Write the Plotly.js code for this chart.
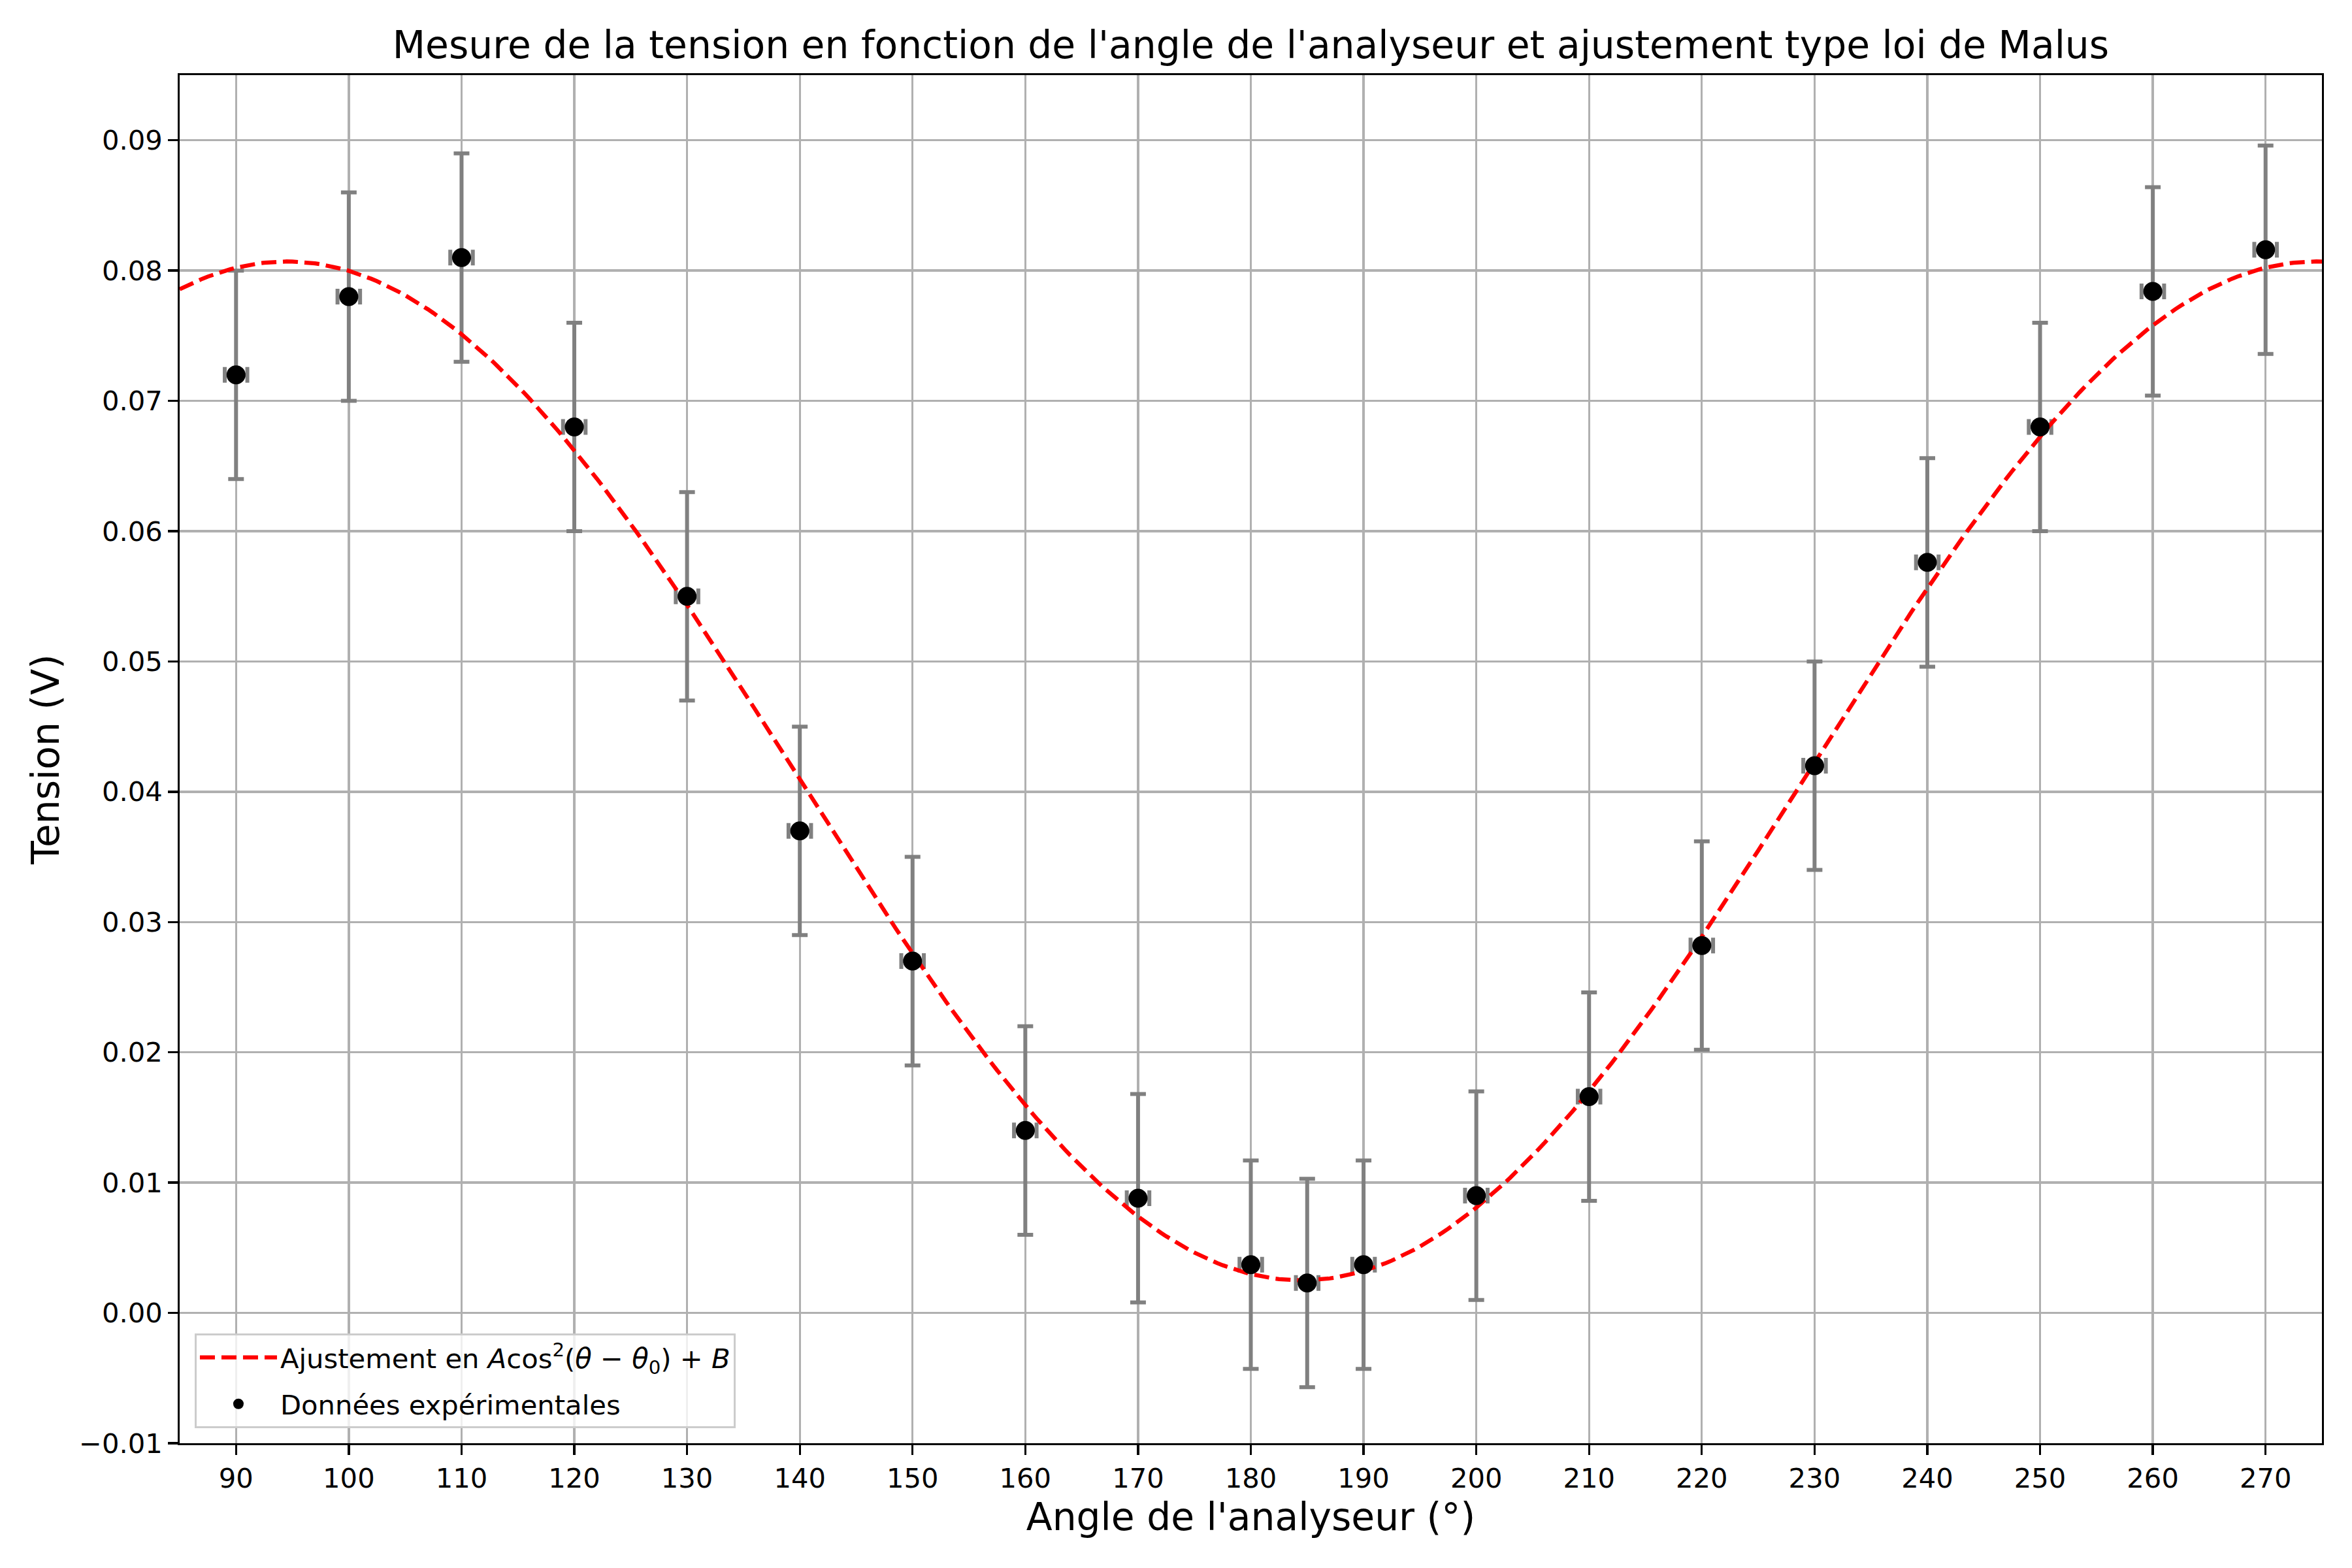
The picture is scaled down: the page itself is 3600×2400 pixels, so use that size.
<!DOCTYPE html>
<html>
<head>
<meta charset="utf-8">
<script src="https://cdn.plot.ly/plotly-3.0.1.min.js"></script>
<style>
  html, body { margin: 0; padding: 0; background: #ffffff; }
  #chart { width: 3600px; height: 2400px; }
</style>
</head>
<body>
<div id="chart"></div>
<script>
const angles = [90, 100, 110, 120, 130, 140, 150, 160, 170, 180, 185, 190, 200, 210, 220, 230, 240, 250, 260, 270];
const tension = [0.072, 0.078, 0.081, 0.068, 0.055, 0.037, 0.027, 0.014, 0.0088, 0.0037, 0.0023, 0.0037, 0.009, 0.0166, 0.0282, 0.042, 0.0576, 0.068, 0.0784, 0.0816];
const tensionErr = [0.008, 0.008, 0.008, 0.008, 0.008, 0.008, 0.008, 0.008, 0.008, 0.008, 0.008, 0.008, 0.008, 0.008, 0.008, 0.008, 0.008, 0.008, 0.008, 0.008];
const angleErr = [1, 1, 1, 1, 1, 1, 1, 1, 1, 1, 1, 1, 1, 1, 1, 1, 1, 1, 1, 1];

// Fit parameters of the drawn Malus-law curve
const fitA = 0.0782;
const fitB = 0.0025;
const fitTheta0 = 94.5;
const fitStart = 85;
const fitEnd = 275;
const fitStep = 0.5;

const xTickVals = [90, 100, 110, 120, 130, 140, 150, 160, 170, 180, 190, 200, 210, 220, 230, 240, 250, 260, 270];
const yTickVals = [-0.01, 0.00, 0.01, 0.02, 0.03, 0.04, 0.05, 0.06, 0.07, 0.08, 0.09];

const titleText = "Mesure de la tension en fonction de l'angle de l'analyseur et ajustement type loi de Malus";
const xLabel = "Angle de l'analyseur (°)";
const yLabel = "Tension (V)";
const fitName = "Ajustement en <i>A</i>cos<sup>2</sup>(<i>θ</i> − <i>θ</i><sub>0</sub>) + <i>B</i>";
const dataName = "Données expérimentales";

const fitX = [];
const fitY = [];
for (let t = fitStart; t <= fitEnd + 1e-9; t += fitStep) {
  const c = Math.cos((t - fitTheta0) * Math.PI / 180);
  fitX.push(t);
  fitY.push(fitA * c * c + fitB);
}

const FONT = "DejaVu Sans, Verdana, sans-serif";
const errColor = "#808080";

const traces = [
  { // error bars (below the fit line)
    x: angles, y: tension, type: "scatter", mode: "markers",
    marker: { color: "rgba(0,0,0,0)", size: 1 },
    error_y: { type: "data", array: tensionErr, visible: true, color: errColor, thickness: 6, width: 12 },
    error_x: { type: "data", array: angleErr, visible: true, color: errColor, thickness: 6, width: 12 },
    showlegend: false, hoverinfo: "skip", legendgroup: "g0"
  },
  {
    x: fitX, y: fitY, type: "scatter", mode: "lines", name: fitName, legendgroup: "g1",
    line: { color: "#ff0000", width: 6.25, dash: "23px,10px" }
  },
  {
    x: angles, y: tension, type: "scatter", mode: "markers", name: dataName, legendgroup: "g2",
    marker: { color: "#000000", size: 29, line: { width: 0 } }
  }
];

const axisCommon = {
  ticks: "outside", ticklen: 14.6, tickwidth: 3.3, tickcolor: "#000000",
  showline: true, linecolor: "#000000", linewidth: 3.3, mirror: true,
  showgrid: true, gridcolor: "#b0b0b0", gridwidth: 3.3,
  zeroline: false, tickfont: { family: FONT, size: 41.7, color: "#000000" }
};

const layout = {
  width: 3600, height: 2400,
  paper_bgcolor: "#ffffff", plot_bgcolor: "#ffffff",
  font: { family: FONT, color: "#000000" },
  margin: { l: 275, r: 46, t: 115, b: 191, pad: 0 },
  title: {
    text: titleText, font: { family: FONT, size: 58.3, color: "#000000" },
    xref: "paper", x: 0.5, xanchor: "center",
    yref: "container", y: 0.963, yanchor: "bottom"
  },
  xaxis: Object.assign({}, axisCommon, {
    range: [85, 275], tickmode: "array", tickvals: xTickVals,
    title: { text: xLabel, font: { family: FONT, size: 58.3, color: "#000000" }, standoff: 16 }
  }),
  yaxis: Object.assign({}, axisCommon, {
    range: [-0.01, 0.095], tickmode: "array", tickvals: yTickVals, tickformat: ".2f",
    title: { text: yLabel, font: { family: FONT, size: 58.3, color: "#000000" }, standoff: 12 }
  }),
  legend: {
    x: 0.007, y: 0.011, xanchor: "left", yanchor: "bottom",
    bgcolor: "rgba(255,255,255,0.8)", bordercolor: "#cccccc", borderwidth: 3,
    font: { family: FONT, size: 41.7, color: "#000000" },
    traceorder: "grouped", tracegroupgap: 14, itemwidth: 118
  },
  showlegend: true
};

Plotly.newPlot("chart", traces, layout, { staticPlot: true, displayModeBar: false });
</script>
</body>
</html>
